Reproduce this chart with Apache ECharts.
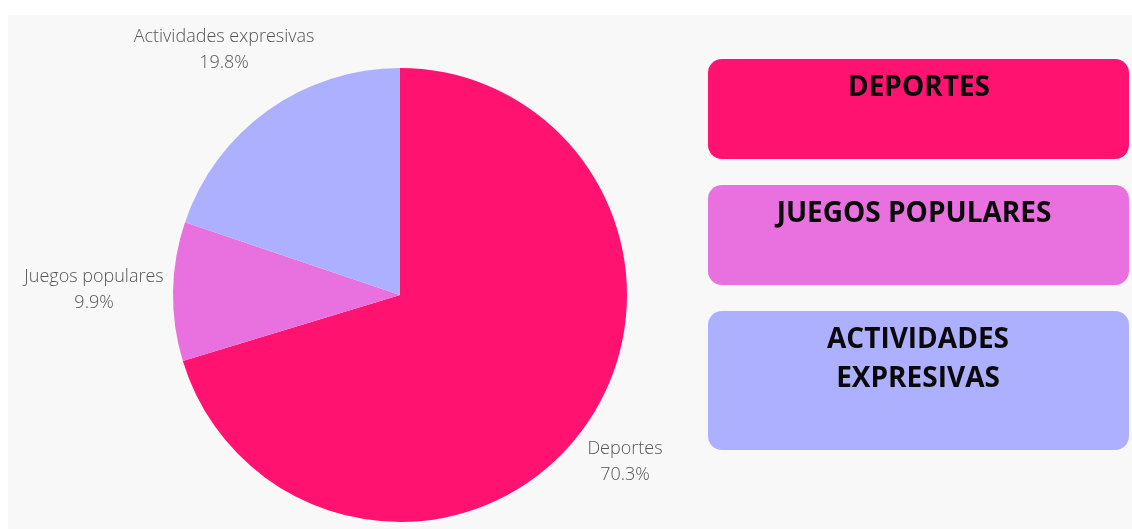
<!DOCTYPE html>
<html>
<head>
<meta charset="utf-8">
<script src="https://cdn.jsdelivr.net/npm/echarts@6/dist/echarts.min.js"></script>
<style>
html,body{margin:0;padding:0;background:#ffffff;}
#chart{width:1132px;height:529px;}
</style>
</head>
<body>
<div id="chart"></div>
<script>
const categories = ['Deportes', 'Juegos populares', 'Actividades expresivas'];
const values = [70.3, 9.9, 19.8];
const colors = ['#FF1270', '#E871DF', '#ADAFFF'];
const legendTitles = ['DEPORTES', 'JUEGOS POPULARES', 'ACTIVIDADES\nEXPRESIVAS'];
const labelLens = [53, 79, 75];

const chart = echarts.init(document.getElementById('chart'), null, {renderer: 'canvas'});

const boxes = [
  {y: 59, h: 100, tx: 919, ty: 88},
  {y: 185, h: 100, tx: 914, ty: 214},
  {y: 311, h: 139, tx: 918, ty: 360}
];

const graphic = [
  {type: 'rect', z: -10, silent: true, shape: {x: 8, y: 15, width: 1124, height: 514}, style: {fill: '#f8f8f8'}}
];
boxes.forEach((b, i) => {
  graphic.push({
    type: 'rect', z: 1,
    shape: {x: 708, y: b.y, width: 421, height: b.h, r: 14},
    style: {fill: colors[i]}
  });
  graphic.push({
    type: 'text', z: 2,
    x: b.tx, y: b.ty,
    style: {
      text: legendTitles[i],
      font: 'bold 28px "Open Sans"',
      fill: '#0a0a0a',
      align: 'center',
      verticalAlign: 'middle',
      lineHeight: 39
    }
  });
});

chart.setOption({
  animation: false,
  backgroundColor: 'transparent',
  graphic: graphic,
  series: [{
    type: 'pie',
    center: [400, 295],
    radius: 227,
    startAngle: 90,
    clockwise: true,
    avoidLabelOverlap: false,
    data: categories.map((c, i) => ({
      name: c, value: values[i],
      itemStyle: {color: colors[i]},
      labelLine: {length: labelLens[i], length2: 0}
    })),
    label: {
      show: true,
      position: 'outside',
      distanceToLabelLine: 0,
      formatter: p => p.name + '\n' + p.value.toFixed(1) + '%',
      fontFamily: 'Open Sans',
      fontWeight: 300,
      fontSize: 18,
      lineHeight: 26,
      color: '#555555',
      align: 'center'
    },
    labelLine: {show: false},
    labelLayout: {align: 'center'},
    emphasis: {disabled: true}
  }]
});
</script>
</body>
</html>
